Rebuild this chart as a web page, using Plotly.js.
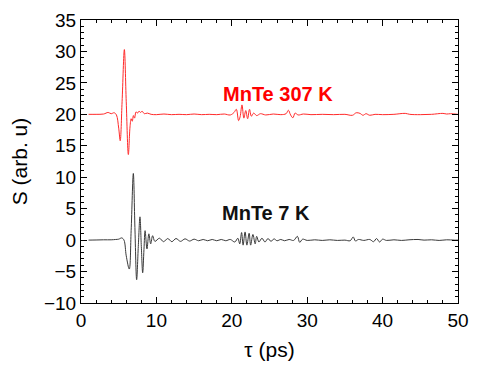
<!DOCTYPE html>
<html>
<head>
<meta charset="utf-8">
<script src="https://cdn.plot.ly/plotly-3.0.1.min.js"></script>
<style>html,body{margin:0;padding:0;background:#fff;}#plot{width:484px;height:378px;}</style>
</head>
<body>
<div id="plot"></div>
<script>
// MnTe 307 K (offset +20)
const tauHot = [1,2,3,3.6,4,4.4,4.7,5,5.2,5.45,5.75,6,6.28,6.5,6.65,6.8,6.95,7.1,7.3,7.5,7.7,7.9,8.1,8.4,8.8,9.3,10,11,12,13,14,15,16,17,18,19,19.8,20.3,20.6,20.9,21.1,21.35,21.6,21.85,22.1,22.35,22.6,22.9,23.3,23.8,24.5,25.5,26.5,27.2,27.5,27.8,28.1,28.4,28.8,29.5,30.5,32,33.5,35,36,36.5,37,37.4,37.8,38.3,39,40,41.5,43,43.6,45,46.5,48,48.5,49,50];
const sHot = [20,20,20.05,20.3,20.1,20.25,19.9,17.8,15.8,22,30.3,22,13.6,18,19.3,18.9,19.8,19.4,20.4,20.2,20.5,20.3,20.5,20.1,20.2,20.0,19.95,20.05,19.95,20.0,19.95,20.05,19.95,20.0,19.95,20.05,19.9,20.3,20.8,19.0,19.6,21.5,19.4,20.6,19.3,20.8,19.7,20.2,19.8,20.1,19.9,20.05,19.95,20.1,20.65,19.9,19.45,20.2,19.9,20.05,19.95,20.0,19.95,20.0,19.85,20.25,20.15,19.85,20.1,19.85,20.0,19.95,20.0,20.15,20.0,19.95,20.0,20.15,20.05,20.1,20.0];
// MnTe 7 K
const tauCold = [1,2,3,4,4.6,5.0,5.4,5.7,6.0,6.4,6.65,6.94,7.15,7.38,7.6,7.82,8.0,8.18,8.35,8.5,8.75,9.0,9.24,9.5,9.8,10.4,10.95,11.5,12.05,12.6,13.2,13.8,14.4,15.0,15.6,16.2,16.8,17.4,18.0,18.6,19.2,19.8,20.4,20.8,21.05,21.3,21.5,21.76,22.0,22.3,22.5,22.8,23.1,23.3,23.6,24.0,24.4,24.8,25.2,25.6,26.0,26.5,27.0,27.6,28.2,28.7,29.0,29.4,30,31,32,33,34,35,35.7,36.1,36.4,36.8,37.5,38.3,38.8,39.2,39.6,40.0,40.5,41.5,42.5,43.5,44.7,45.5,46.5,47.5,48.5,49.5,50];
const sCold = [0,0.02,0.05,0.05,0.1,0.15,0.35,0,-2.5,-4.6,1.5,10.6,2,-6.3,-1,3.7,-1,-5.2,-1.5,1.5,-1.4,1.0,-0.6,0.7,-0.2,0.3,-0.25,0.25,-0.25,0.25,-0.2,0.2,-0.15,0.15,-0.1,0.1,-0.1,0.1,-0.1,0.1,-0.1,0.1,-0.3,0.3,-0.6,1.2,-0.8,1.3,-0.8,1.1,-0.8,0.9,-0.6,0.6,-0.3,0.3,-0.3,0.25,-0.2,0.2,-0.1,0.1,-0.1,0.1,-0.05,0.6,-0.35,0.15,-0.05,0.05,-0.05,0.05,-0.05,0.0,-0.1,0.5,-0.15,0.1,-0.05,0.1,-0.25,0.25,-0.3,0.15,-0.05,0.05,-0.05,0.05,0.1,0,0.05,-0.05,0.05,0,0];
const labels = ['MnTe 307 K', 'MnTe 7 K'];

const font = 'Liberation Sans, Arial, sans-serif';
const traces = [
  {x: tauHot, y: sHot, mode: 'lines', line: {color: '#ff2a2a', width: 1, shape: 'spline'}, hoverinfo: 'skip'},
  {x: tauCold, y: sCold, mode: 'lines', line: {color: '#3a3a3a', width: 1, shape: 'spline'}, hoverinfo: 'skip'}
];
const axisCommon = {
  showline: true, linecolor: '#000', linewidth: 1, mirror: 'ticks', ticks: 'inside',
  ticklen: 6, tickwidth: 1, tickcolor: '#000', showgrid: false, zeroline: false,
  tickfont: {family: font, size: 19, color: '#000'}
};
const layout = {
  width: 484, height: 378,
  margin: {l: 81, r: 26, t: 20, b: 75},
  paper_bgcolor: '#fff', plot_bgcolor: '#fff',
  showlegend: false,
  xaxis: Object.assign({}, axisCommon, {
    range: [0, 50], dtick: 10, tick0: 0,
    minor: {dtick: 2, ticks: 'inside', ticklen: 3, tickcolor: '#000'},
    title: {text: 'τ (ps)', font: {family: font, size: 21, color: '#000'}, standoff: 12}
  }),
  yaxis: Object.assign({}, axisCommon, {
    range: [-10, 35], dtick: 5, tick0: 0,
    minor: {dtick: 1, ticks: 'inside', ticklen: 3, tickcolor: '#000'},
    title: {text: 'S (arb. u)', font: {family: font, size: 21, color: '#000'}, standoff: 10}
  }),
  annotations: [
    {x: 26.1, y: 23.2, xref: 'x', yref: 'y', text: '<b>' + labels[0] + '</b>', showarrow: false,
     font: {family: font, size: 20, color: '#ff0000'}},
    {x: 24.5, y: 4.3, xref: 'x', yref: 'y', text: '<b>' + labels[1] + '</b>', showarrow: false,
     font: {family: font, size: 20, color: '#111'}}
  ]
};
Plotly.newPlot('plot', traces, layout, {staticPlot: true, displayModeBar: false});
</script>
</body>
</html>
